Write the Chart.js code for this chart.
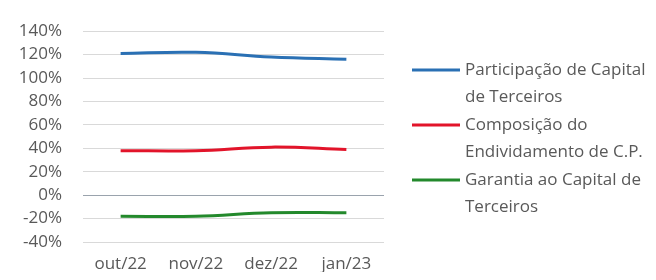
<!DOCTYPE html>
<html>
<head>
<meta charset="utf-8">
<script src="https://cdn.jsdelivr.net/npm/chart.js@4"></script>
<style>
  body { margin: 0; background: #fff; }
</style>
</head>
<body>
<canvas id="grafico" width="656" height="280"></canvas>
<script>
// meses
const meses = ["out/22", "nov/22", "dez/22", "jan/23"];

// valores em %
const participacaoCapital = [121, 122, 118, 116];
const composicaoEndividamento = [38, 38, 41, 39];
const garantiaCapital = [-18, -18, -15, -15];

// nomes das séries (quebrados em linhas como na legenda)
const nomesSeries = [
    ["Participação de Capital", "de Terceiros"],
    ["Composição do", "Endividamento de C.P."],
    ["Garantia ao Capital de", "Terceiros"]
];
const coresSeries = ["#2a70b4", "#e2142a", "#23892c"];

const fonte = "'Open Sans', sans-serif";
const corTexto = "#595959";

// legenda desenhada à direita, linha ao lado da primeira linha do texto
const legendaLateral = {
    id: "legendaLateral",
    afterDraw(chart) {
        const ctx = chart.ctx;
        ctx.save();
        ctx.font = "17px " + fonte;
        ctx.fillStyle = corTexto;
        ctx.textBaseline = "middle";
        let y = 70;
        chart.data.datasets.forEach(ds => {
            ctx.strokeStyle = ds.borderColor;
            ctx.lineWidth = 3;
            ctx.beginPath();
            ctx.moveTo(412, y);
            ctx.lineTo(460, y);
            ctx.stroke();
            ds.label.forEach((linha, i) => {
                ctx.fillText(linha, 465, y + i * 27);
            });
            y += 55;
        });
        ctx.restore();
    }
};

const datasets = [participacaoCapital, composicaoEndividamento, garantiaCapital].map((valores, i) => ({
    label: nomesSeries[i],
    data: valores,
    borderColor: coresSeries[i],
    backgroundColor: coresSeries[i],
    borderWidth: 3,
    pointRadius: 0,
    tension: 0.4,
    fill: false
}));

new Chart(document.getElementById("grafico").getContext("2d"), {
    type: "line",
    data: { labels: meses, datasets: datasets },
    options: {
        responsive: false,
        devicePixelRatio: 1,
        animation: false,
        layout: { padding: { top: 25, right: 272, bottom: 8, left: 0 } },
        plugins: {
            legend: { display: false },
            tooltip: { enabled: false }
        },
        scales: {
            x: {
                offset: true,
                grid: { display: false },
                border: { display: false },
                ticks: { color: corTexto, font: { family: fonte, size: 17 }, padding: 4, maxRotation: 0, autoSkip: false },
                afterFit: scale => { scale.height = 30; }
            },
            y: {
                min: -40,
                max: 140,
                ticks: {
                    stepSize: 20,
                    color: corTexto,
                    font: { family: fonte, size: 17 },
                    padding: 21,
                    callback: v => v + "%"
                },
                grid: {
                    drawTicks: false,
                    color: ctx => ctx.tick && ctx.tick.value === 0 ? "#9aa3ad" : "#d9d9d9"
                },
                border: { display: false },
                afterFit: scale => { scale.width = 83; }
            }
        }
    },
    plugins: [legendaLateral]
});
</script>
</body>
</html>
